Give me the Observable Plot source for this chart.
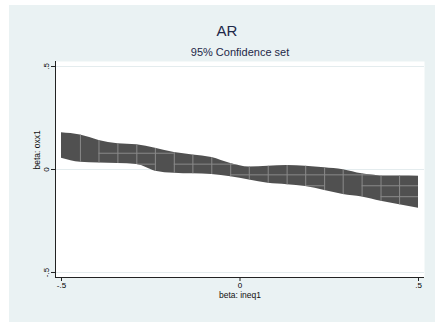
<!DOCTYPE html>
<html>
<head>
<meta charset="utf-8">
<script src="https://cdn.jsdelivr.net/npm/d3@7"></script>
<script src="https://cdn.jsdelivr.net/npm/@observablehq/plot@0.6"></script>
<style>
  html, body { margin: 0; padding: 0; background: #fff; }
  #wrap { position: relative; width: 435px; height: 322px; background: #fff; overflow: hidden;
          font-family: "Liberation Sans", Arial, Helvetica, sans-serif; }
  #bg { position: absolute; left: 9px; top: 5px; right: 0; bottom: 0; background: #EAF2F3; }
  #title { position: absolute; left: 227px; top: 23px; transform: translateX(-50%);
           font-size: 15px; line-height: 15px; color: #1e2848; white-space: nowrap; }
  #subtitle { position: absolute; left: 240px; top: 47px; transform: translateX(-50%);
              font-size: 11px; line-height: 11px; color: #1e2848; white-space: nowrap; }
  #chart { position: absolute; left: 0; top: 0; }
</style>
</head>
<body>
<div id="wrap">
  <div id="bg"></div>
  <div id="chart"></div>
  <div id="title">AR</div>
  <div id="subtitle">95% Confidence set</div>
</div>
<script>
// Grid of beta: ineq1 values at which the confidence set was evaluated
const gridX = [-0.5, -0.447, -0.395, -0.342, -0.289, -0.237, -0.184, -0.132, -0.079, -0.026,
               0.026, 0.079, 0.132, 0.184, 0.237, 0.289, 0.342, 0.395, 0.447, 0.5];
// Upper and lower bounds of beta: oxx1 in the confidence set at each grid value
const upper = [0.178, 0.167, 0.141, 0.125, 0.120, 0.103, 0.083, 0.071, 0.058, 0.029,
               0.012, 0.016, 0.019, 0.016, 0.008, -0.001, -0.021, -0.031, -0.032, -0.033];
const lower = [0.055, 0.035, 0.031, 0.029, 0.024, -0.008, -0.018, -0.021, -0.024, -0.035,
               -0.051, -0.067, -0.074, -0.083, -0.102, -0.121, -0.133, -0.154, -0.171, -0.188];
// Horizontal seams between pieces of the set (beta: oxx1 grid value, beta: ineq1 range)
const seamY  = [0.079, 0.026, 0.026, -0.026, -0.079, -0.079, -0.132];
const seamX1 = [-0.395, -0.289, -0.184, -0.026, 0.184, 0.342, 0.395];
const seamX2 = [-0.184, -0.237, 0.5, 0.5, 0.237, 0.5, 0.5];
// Axis ticks
const xTicks = [-0.5, 0, 0.5];
const yTicks = [-0.5, 0, 0.5];
const xTitle = "beta: ineq1";
const yTitle = "beta: oxx1";

const band = gridX.map((x, i) => ({x, hi: upper[i], lo: lower[i]}));
const seams = seamY.map((y, i) => ({y, x1: seamX1[i], x2: seamX2[i]}));
const inner = gridX.slice(1, -1);
const fmt = d => d === 0 ? "0" : String(d).replace("0.", ".");

const svg = Plot.plot({
  width: 435,
  height: 322,
  marginLeft: 55,
  marginRight: 11,
  marginTop: 61,
  marginBottom: 45,
  style: {background: "transparent", fontFamily: "'Liberation Sans', Arial, sans-serif", overflow: "visible"},
  x: {domain: [-0.5168, 0.5168]},
  y: {domain: [-0.5243, 0.5243]},
  marks: [
    Plot.frame({fill: "white", stroke: null}),
    Plot.ruleY(yTicks, {stroke: "#e4ecee", strokeWidth: 1}),
    Plot.areaY(band, {x: "x", y1: "lo", y2: "hi", fill: "#505050", curve: "monotone-x", className: "cs-band"}),
    Plot.ruleX(inner, {stroke: "#8a8a8a", strokeWidth: 1, className: "cs-seam"}),
    Plot.ruleY(seams, {y: "y", x1: "x1", x2: "x2", stroke: "#8a8a8a", strokeWidth: 1, className: "cs-seam"}),
    Plot.axisX({ticks: xTicks, tickFormat: fmt, tickSize: 4, tickPadding: 1, fontSize: 8, label: null, stroke: "#222"}),
    Plot.axisY({ticks: yTicks, tickFormat: fmt, tickSize: 4, tickPadding: 3, tickRotate: -90, fontSize: 8, label: null, stroke: "#222"}),
    Plot.ruleX([-0.5168], {stroke: "#222", strokeWidth: 1}),
    Plot.ruleY([-0.5243], {stroke: "#222", strokeWidth: 1}),
    Plot.text([xTitle], {frameAnchor: "bottom", dy: 20, fontSize: 8.5, fill: "#111"}),
    Plot.text([yTitle], {frameAnchor: "left", dx: -18, rotate: -90, fontSize: 8.5, fill: "#111"})
  ]
});

// Clip the seam lines to the confidence band shape
const areaPath = svg.querySelector("g.cs-band path") || svg.querySelector(".cs-band path");
if (areaPath) {
  const ns = "http://www.w3.org/2000/svg";
  const defs = document.createElementNS(ns, "defs");
  const cp = document.createElementNS(ns, "clipPath");
  cp.setAttribute("id", "bandclip");
  const p = document.createElementNS(ns, "path");
  p.setAttribute("d", areaPath.getAttribute("d"));
  const gt = areaPath.parentNode.getAttribute("transform");
  if (gt) p.setAttribute("transform", gt);
  cp.appendChild(p);
  defs.appendChild(cp);
  svg.insertBefore(defs, svg.firstChild);
  const seamGroups = Array.from(svg.querySelectorAll("g.cs-seam"));
  if (seamGroups.length) {
    const wrapG = document.createElementNS(ns, "g");
    wrapG.setAttribute("clip-path", "url(#bandclip)");
    seamGroups[0].parentNode.insertBefore(wrapG, seamGroups[0]);
    seamGroups.forEach(g => wrapG.appendChild(g));
  }
}
document.getElementById("chart").appendChild(svg);
</script>
</body>
</html>
